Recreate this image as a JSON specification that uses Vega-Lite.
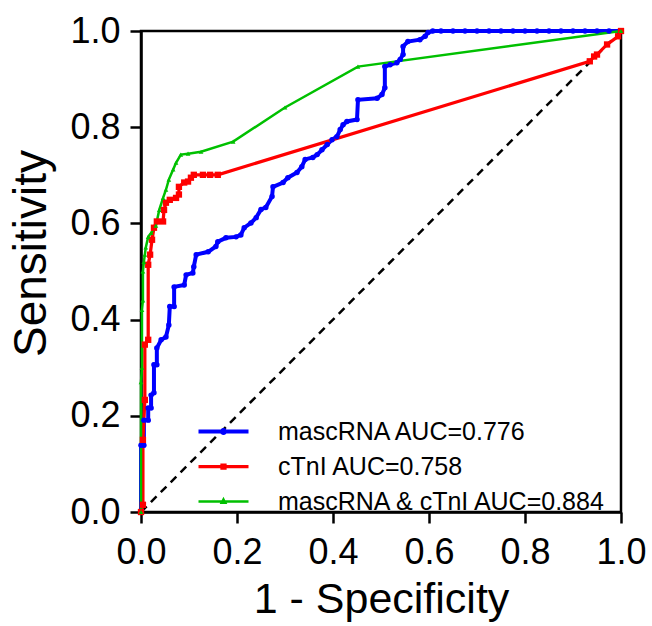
{
  "$schema": "https://vega.github.io/schema/vega-lite/v6.json",
  "width": 480,
  "height": 481,
  "autosize": {"type": "none"},
  "padding": {"left": 141, "top": 31, "right": 31, "bottom": 114},
  "background": "white",
  "config": {
    "font": "Liberation Sans",
    "view": {"stroke": "black", "strokeWidth": 2.5},
    "axis": {
      "domainColor": "black", "domainWidth": 2.5,
      "tickColor": "black", "tickWidth": 2.5, "tickSize": 11,
      "grid": false, "labelFlush": false, "labelOverlap": false,
      "labelFont": "Liberation Sans", "labelFontSize": 36, "labelColor": "black",
      "titleFont": "Liberation Sans", "titleFontWeight": "normal", "titleColor": "black"
    }
  },
  "datasets": {
    "diag": [{"fpr": 0, "tpr": 0}, {"fpr": 1, "tpr": 1}],
    "roc": [
      {"curve": "mascRNA AUC=0.776", "step": 1, "fpr": 0, "tpr": 0},
      {"curve": "mascRNA AUC=0.776", "step": 2, "fpr": 0, "tpr": 0.139},
      {"curve": "mascRNA AUC=0.776", "step": 3, "fpr": 0.006, "tpr": 0.139},
      {"curve": "mascRNA AUC=0.776", "step": 4, "fpr": 0.006, "tpr": 0.191},
      {"curve": "mascRNA AUC=0.776", "step": 5, "fpr": 0.015, "tpr": 0.191},
      {"curve": "mascRNA AUC=0.776", "step": 6, "fpr": 0.015, "tpr": 0.216},
      {"curve": "mascRNA AUC=0.776", "step": 7, "fpr": 0.021, "tpr": 0.216},
      {"curve": "mascRNA AUC=0.776", "step": 8, "fpr": 0.021, "tpr": 0.243},
      {"curve": "mascRNA AUC=0.776", "step": 9, "fpr": 0.027, "tpr": 0.248},
      {"curve": "mascRNA AUC=0.776", "step": 10, "fpr": 0.027, "tpr": 0.306},
      {"curve": "mascRNA AUC=0.776", "step": 11, "fpr": 0.033, "tpr": 0.306},
      {"curve": "mascRNA AUC=0.776", "step": 12, "fpr": 0.033, "tpr": 0.341},
      {"curve": "mascRNA AUC=0.776", "step": 13, "fpr": 0.042, "tpr": 0.358},
      {"curve": "mascRNA AUC=0.776", "step": 14, "fpr": 0.052, "tpr": 0.364},
      {"curve": "mascRNA AUC=0.776", "step": 15, "fpr": 0.058, "tpr": 0.389},
      {"curve": "mascRNA AUC=0.776", "step": 16, "fpr": 0.06, "tpr": 0.427},
      {"curve": "mascRNA AUC=0.776", "step": 17, "fpr": 0.069, "tpr": 0.427},
      {"curve": "mascRNA AUC=0.776", "step": 18, "fpr": 0.069, "tpr": 0.468},
      {"curve": "mascRNA AUC=0.776", "step": 19, "fpr": 0.09, "tpr": 0.472},
      {"curve": "mascRNA AUC=0.776", "step": 20, "fpr": 0.094, "tpr": 0.493},
      {"curve": "mascRNA AUC=0.776", "step": 21, "fpr": 0.108, "tpr": 0.497},
      {"curve": "mascRNA AUC=0.776", "step": 22, "fpr": 0.11, "tpr": 0.51},
      {"curve": "mascRNA AUC=0.776", "step": 23, "fpr": 0.115, "tpr": 0.535},
      {"curve": "mascRNA AUC=0.776", "step": 24, "fpr": 0.14, "tpr": 0.541},
      {"curve": "mascRNA AUC=0.776", "step": 25, "fpr": 0.156, "tpr": 0.552},
      {"curve": "mascRNA AUC=0.776", "step": 26, "fpr": 0.16, "tpr": 0.562},
      {"curve": "mascRNA AUC=0.776", "step": 27, "fpr": 0.177, "tpr": 0.57},
      {"curve": "mascRNA AUC=0.776", "step": 28, "fpr": 0.198, "tpr": 0.572},
      {"curve": "mascRNA AUC=0.776", "step": 29, "fpr": 0.208, "tpr": 0.576},
      {"curve": "mascRNA AUC=0.776", "step": 30, "fpr": 0.215, "tpr": 0.591},
      {"curve": "mascRNA AUC=0.776", "step": 31, "fpr": 0.229, "tpr": 0.601},
      {"curve": "mascRNA AUC=0.776", "step": 32, "fpr": 0.24, "tpr": 0.612},
      {"curve": "mascRNA AUC=0.776", "step": 33, "fpr": 0.25, "tpr": 0.629},
      {"curve": "mascRNA AUC=0.776", "step": 34, "fpr": 0.26, "tpr": 0.633},
      {"curve": "mascRNA AUC=0.776", "step": 35, "fpr": 0.273, "tpr": 0.656},
      {"curve": "mascRNA AUC=0.776", "step": 36, "fpr": 0.275, "tpr": 0.676},
      {"curve": "mascRNA AUC=0.776", "step": 37, "fpr": 0.296, "tpr": 0.685},
      {"curve": "mascRNA AUC=0.776", "step": 38, "fpr": 0.306, "tpr": 0.695},
      {"curve": "mascRNA AUC=0.776", "step": 39, "fpr": 0.325, "tpr": 0.706},
      {"curve": "mascRNA AUC=0.776", "step": 40, "fpr": 0.335, "tpr": 0.718},
      {"curve": "mascRNA AUC=0.776", "step": 41, "fpr": 0.342, "tpr": 0.733},
      {"curve": "mascRNA AUC=0.776", "step": 42, "fpr": 0.358, "tpr": 0.737},
      {"curve": "mascRNA AUC=0.776", "step": 43, "fpr": 0.367, "tpr": 0.743},
      {"curve": "mascRNA AUC=0.776", "step": 44, "fpr": 0.377, "tpr": 0.753},
      {"curve": "mascRNA AUC=0.776", "step": 45, "fpr": 0.388, "tpr": 0.764},
      {"curve": "mascRNA AUC=0.776", "step": 46, "fpr": 0.398, "tpr": 0.774},
      {"curve": "mascRNA AUC=0.776", "step": 47, "fpr": 0.408, "tpr": 0.78},
      {"curve": "mascRNA AUC=0.776", "step": 48, "fpr": 0.415, "tpr": 0.795},
      {"curve": "mascRNA AUC=0.776", "step": 49, "fpr": 0.421, "tpr": 0.805},
      {"curve": "mascRNA AUC=0.776", "step": 50, "fpr": 0.429, "tpr": 0.812},
      {"curve": "mascRNA AUC=0.776", "step": 51, "fpr": 0.45, "tpr": 0.816},
      {"curve": "mascRNA AUC=0.776", "step": 52, "fpr": 0.452, "tpr": 0.857},
      {"curve": "mascRNA AUC=0.776", "step": 53, "fpr": 0.492, "tpr": 0.86},
      {"curve": "mascRNA AUC=0.776", "step": 54, "fpr": 0.502, "tpr": 0.868},
      {"curve": "mascRNA AUC=0.776", "step": 55, "fpr": 0.508, "tpr": 0.882},
      {"curve": "mascRNA AUC=0.776", "step": 56, "fpr": 0.508, "tpr": 0.926},
      {"curve": "mascRNA AUC=0.776", "step": 57, "fpr": 0.519, "tpr": 0.93},
      {"curve": "mascRNA AUC=0.776", "step": 58, "fpr": 0.533, "tpr": 0.934},
      {"curve": "mascRNA AUC=0.776", "step": 59, "fpr": 0.54, "tpr": 0.941},
      {"curve": "mascRNA AUC=0.776", "step": 60, "fpr": 0.546, "tpr": 0.951},
      {"curve": "mascRNA AUC=0.776", "step": 61, "fpr": 0.546, "tpr": 0.968},
      {"curve": "mascRNA AUC=0.776", "step": 62, "fpr": 0.556, "tpr": 0.978},
      {"curve": "mascRNA AUC=0.776", "step": 63, "fpr": 0.581, "tpr": 0.982},
      {"curve": "mascRNA AUC=0.776", "step": 64, "fpr": 0.592, "tpr": 0.989},
      {"curve": "mascRNA AUC=0.776", "step": 65, "fpr": 0.598, "tpr": 0.997},
      {"curve": "mascRNA AUC=0.776", "step": 66, "fpr": 0.608, "tpr": 1.0},
      {"curve": "mascRNA AUC=0.776", "step": 67, "fpr": 0.625, "tpr": 1.0},
      {"curve": "mascRNA AUC=0.776", "step": 68, "fpr": 0.65, "tpr": 1.0},
      {"curve": "mascRNA AUC=0.776", "step": 69, "fpr": 0.675, "tpr": 1.0},
      {"curve": "mascRNA AUC=0.776", "step": 70, "fpr": 0.7, "tpr": 1.0},
      {"curve": "mascRNA AUC=0.776", "step": 71, "fpr": 0.725, "tpr": 1.0},
      {"curve": "mascRNA AUC=0.776", "step": 72, "fpr": 0.75, "tpr": 1.0},
      {"curve": "mascRNA AUC=0.776", "step": 73, "fpr": 0.775, "tpr": 1.0},
      {"curve": "mascRNA AUC=0.776", "step": 74, "fpr": 0.8, "tpr": 1.0},
      {"curve": "mascRNA AUC=0.776", "step": 75, "fpr": 0.825, "tpr": 1.0},
      {"curve": "mascRNA AUC=0.776", "step": 76, "fpr": 0.85, "tpr": 1.0},
      {"curve": "mascRNA AUC=0.776", "step": 77, "fpr": 0.875, "tpr": 1.0},
      {"curve": "mascRNA AUC=0.776", "step": 78, "fpr": 0.9, "tpr": 1.0},
      {"curve": "mascRNA AUC=0.776", "step": 79, "fpr": 0.925, "tpr": 1.0},
      {"curve": "mascRNA AUC=0.776", "step": 80, "fpr": 0.95, "tpr": 1.0},
      {"curve": "mascRNA AUC=0.776", "step": 81, "fpr": 0.975, "tpr": 1.0},
      {"curve": "mascRNA AUC=0.776", "step": 82, "fpr": 1.0, "tpr": 1.0},

      {"curve": "cTnI AUC=0.758", "step": 1, "fpr": 0, "tpr": 0},
      {"curve": "cTnI AUC=0.758", "step": 2, "fpr": 0.004, "tpr": 0.015},
      {"curve": "cTnI AUC=0.758", "step": 3, "fpr": 0.004, "tpr": 0.15},
      {"curve": "cTnI AUC=0.758", "step": 4, "fpr": 0.008, "tpr": 0.233},
      {"curve": "cTnI AUC=0.758", "step": 5, "fpr": 0.008, "tpr": 0.348},
      {"curve": "cTnI AUC=0.758", "step": 6, "fpr": 0.015, "tpr": 0.358},
      {"curve": "cTnI AUC=0.758", "step": 7, "fpr": 0.015, "tpr": 0.514},
      {"curve": "cTnI AUC=0.758", "step": 8, "fpr": 0.019, "tpr": 0.535},
      {"curve": "cTnI AUC=0.758", "step": 9, "fpr": 0.023, "tpr": 0.566},
      {"curve": "cTnI AUC=0.758", "step": 10, "fpr": 0.027, "tpr": 0.591},
      {"curve": "cTnI AUC=0.758", "step": 11, "fpr": 0.033, "tpr": 0.604},
      {"curve": "cTnI AUC=0.758", "step": 12, "fpr": 0.046, "tpr": 0.604},
      {"curve": "cTnI AUC=0.758", "step": 13, "fpr": 0.048, "tpr": 0.628},
      {"curve": "cTnI AUC=0.758", "step": 14, "fpr": 0.052, "tpr": 0.643},
      {"curve": "cTnI AUC=0.758", "step": 15, "fpr": 0.06, "tpr": 0.649},
      {"curve": "cTnI AUC=0.758", "step": 16, "fpr": 0.073, "tpr": 0.653},
      {"curve": "cTnI AUC=0.758", "step": 17, "fpr": 0.079, "tpr": 0.66},
      {"curve": "cTnI AUC=0.758", "step": 18, "fpr": 0.079, "tpr": 0.676},
      {"curve": "cTnI AUC=0.758", "step": 19, "fpr": 0.09, "tpr": 0.685},
      {"curve": "cTnI AUC=0.758", "step": 20, "fpr": 0.098, "tpr": 0.687},
      {"curve": "cTnI AUC=0.758", "step": 21, "fpr": 0.104, "tpr": 0.695},
      {"curve": "cTnI AUC=0.758", "step": 22, "fpr": 0.11, "tpr": 0.701},
      {"curve": "cTnI AUC=0.758", "step": 23, "fpr": 0.129, "tpr": 0.701},
      {"curve": "cTnI AUC=0.758", "step": 24, "fpr": 0.144, "tpr": 0.701},
      {"curve": "cTnI AUC=0.758", "step": 25, "fpr": 0.16, "tpr": 0.701},
      {"curve": "cTnI AUC=0.758", "step": 26, "fpr": 0.935, "tpr": 0.937},
      {"curve": "cTnI AUC=0.758", "step": 27, "fpr": 0.944, "tpr": 0.947},
      {"curve": "cTnI AUC=0.758", "step": 28, "fpr": 0.95, "tpr": 0.951},
      {"curve": "cTnI AUC=0.758", "step": 29, "fpr": 0.971, "tpr": 0.972},
      {"curve": "cTnI AUC=0.758", "step": 30, "fpr": 0.994, "tpr": 0.989},
      {"curve": "cTnI AUC=0.758", "step": 31, "fpr": 1.0, "tpr": 1.0},

      {"curve": "mascRNA & cTnI AUC=0.884", "step": 1, "fpr": 0, "tpr": 0},
      {"curve": "mascRNA & cTnI AUC=0.884", "step": 2, "fpr": 0, "tpr": 0.27},
      {"curve": "mascRNA & cTnI AUC=0.884", "step": 3, "fpr": 0.002, "tpr": 0.3},
      {"curve": "mascRNA & cTnI AUC=0.884", "step": 4, "fpr": 0.002, "tpr": 0.42},
      {"curve": "mascRNA & cTnI AUC=0.884", "step": 5, "fpr": 0.004, "tpr": 0.44},
      {"curve": "mascRNA & cTnI AUC=0.884", "step": 6, "fpr": 0.004, "tpr": 0.5},
      {"curve": "mascRNA & cTnI AUC=0.884", "step": 7, "fpr": 0.006, "tpr": 0.52},
      {"curve": "mascRNA & cTnI AUC=0.884", "step": 8, "fpr": 0.008, "tpr": 0.535},
      {"curve": "mascRNA & cTnI AUC=0.884", "step": 9, "fpr": 0.01, "tpr": 0.55},
      {"curve": "mascRNA & cTnI AUC=0.884", "step": 10, "fpr": 0.015, "tpr": 0.572},
      {"curve": "mascRNA & cTnI AUC=0.884", "step": 11, "fpr": 0.021, "tpr": 0.58},
      {"curve": "mascRNA & cTnI AUC=0.884", "step": 12, "fpr": 0.031, "tpr": 0.595},
      {"curve": "mascRNA & cTnI AUC=0.884", "step": 13, "fpr": 0.038, "tpr": 0.628},
      {"curve": "mascRNA & cTnI AUC=0.884", "step": 14, "fpr": 0.046, "tpr": 0.653},
      {"curve": "mascRNA & cTnI AUC=0.884", "step": 15, "fpr": 0.052, "tpr": 0.67},
      {"curve": "mascRNA & cTnI AUC=0.884", "step": 16, "fpr": 0.058, "tpr": 0.691},
      {"curve": "mascRNA & cTnI AUC=0.884", "step": 17, "fpr": 0.067, "tpr": 0.712},
      {"curve": "mascRNA & cTnI AUC=0.884", "step": 18, "fpr": 0.073, "tpr": 0.726},
      {"curve": "mascRNA & cTnI AUC=0.884", "step": 19, "fpr": 0.083, "tpr": 0.743},
      {"curve": "mascRNA & cTnI AUC=0.884", "step": 20, "fpr": 0.098, "tpr": 0.745},
      {"curve": "mascRNA & cTnI AUC=0.884", "step": 21, "fpr": 0.125, "tpr": 0.749},
      {"curve": "mascRNA & cTnI AUC=0.884", "step": 22, "fpr": 0.192, "tpr": 0.77},
      {"curve": "mascRNA & cTnI AUC=0.884", "step": 23, "fpr": 0.3, "tpr": 0.841},
      {"curve": "mascRNA & cTnI AUC=0.884", "step": 24, "fpr": 0.452, "tpr": 0.926},
      {"curve": "mascRNA & cTnI AUC=0.884", "step": 25, "fpr": 1.0, "tpr": 1.0}
    ]
  },
  "layer": [
    {
      "data": {"name": "diag"},
      "mark": {"type": "line", "color": "black", "strokeDash": [8, 6], "strokeWidth": 2.5},
      "encoding": {
        "x": {"field": "fpr", "type": "quantitative", "scale": {"domain": [0, 1], "nice": false},
              "axis": {"values": [0, 0.2, 0.4, 0.6, 0.8, 1.0], "format": ".1f", "title": "1 - Specificity", "titleFontSize": 43, "labelPadding": 12, "titlePadding": 8}},
        "y": {"field": "tpr", "type": "quantitative", "scale": {"domain": [0, 1], "nice": false},
              "axis": {"values": [0, 0.2, 0.4, 0.6, 0.8, 1.0], "format": ".1f", "title": "Sensitivity", "titleFontSize": 46, "titleY": 222, "labelPadding": 10, "titlePadding": 14}}
      }
    },
    {
      "data": {"name": "roc"},
      "mark": {"type": "line"},
      "encoding": {
        "x": {"field": "fpr", "type": "quantitative"},
        "y": {"field": "tpr", "type": "quantitative"},
        "order": {"field": "step", "type": "quantitative"},
        "color": {"field": "curve", "type": "nominal",
          "scale": {"domain": ["mascRNA AUC=0.776", "cTnI AUC=0.758", "mascRNA & cTnI AUC=0.884"], "range": ["#0000FF", "#FF0000", "#00C000"]},
          "legend": {"title": null, "orient": "none", "legendX": 70, "legendY": 388, "padding": 0,
            "symbolType": "M-5,0H5", "symbolSize": 100, "symbolStrokeWidth": 3,
            "labelFontSize": 25, "labelFont": "Liberation Sans", "labelColor": "black", "labelOffset": 42, "labelLimit": 0, "rowPadding": 9,
            "encode": {"symbols": {"update": {"shape": {"signal": "datum.value === 'cTnI AUC=0.758' ? 'M-5,0H5M-0.3,-0.3H0.3V0.3H-0.3Z' : datum.value === 'mascRNA AUC=0.776' ? 'M-5,0H5M-0.3,0A0.3,0.3 0 1,0 0.3,0A0.3,0.3 0 1,0 -0.3,0Z' : 'M-5,0H5M0,-0.4L0.35,0.25H-0.35Z'"}}}}}},
        "strokeWidth": {"field": "curve", "type": "nominal",
          "scale": {"domain": ["mascRNA AUC=0.776", "cTnI AUC=0.758", "mascRNA & cTnI AUC=0.884"], "range": [4, 2.5, 2.5]}, "legend": null}
      }
    },
    {
      "data": {"name": "roc"},
      "transform": [{"filter": "datum.curve === 'mascRNA AUC=0.776'"}],
      "mark": {"type": "point", "filled": true, "opacity": 1, "shape": "circle", "size": 30, "color": "#0000FF"},
      "encoding": {
        "x": {"field": "fpr", "type": "quantitative"},
        "y": {"field": "tpr", "type": "quantitative"}
      }
    },
    {
      "data": {"name": "roc"},
      "transform": [{"filter": "datum.curve === 'cTnI AUC=0.758'"}],
      "mark": {"type": "point", "filled": true, "opacity": 1, "shape": "square", "size": 40, "color": "#FF0000"},
      "encoding": {
        "x": {"field": "fpr", "type": "quantitative"},
        "y": {"field": "tpr", "type": "quantitative"}
      }
    },
    {
      "data": {"name": "roc"},
      "transform": [{"filter": "datum.curve === 'mascRNA & cTnI AUC=0.884'"}],
      "mark": {"type": "point", "filled": true, "opacity": 1, "shape": "triangle-up", "size": 22, "color": "#00C000"},
      "encoding": {
        "x": {"field": "fpr", "type": "quantitative"},
        "y": {"field": "tpr", "type": "quantitative"}
      }
    }
  ]
}
